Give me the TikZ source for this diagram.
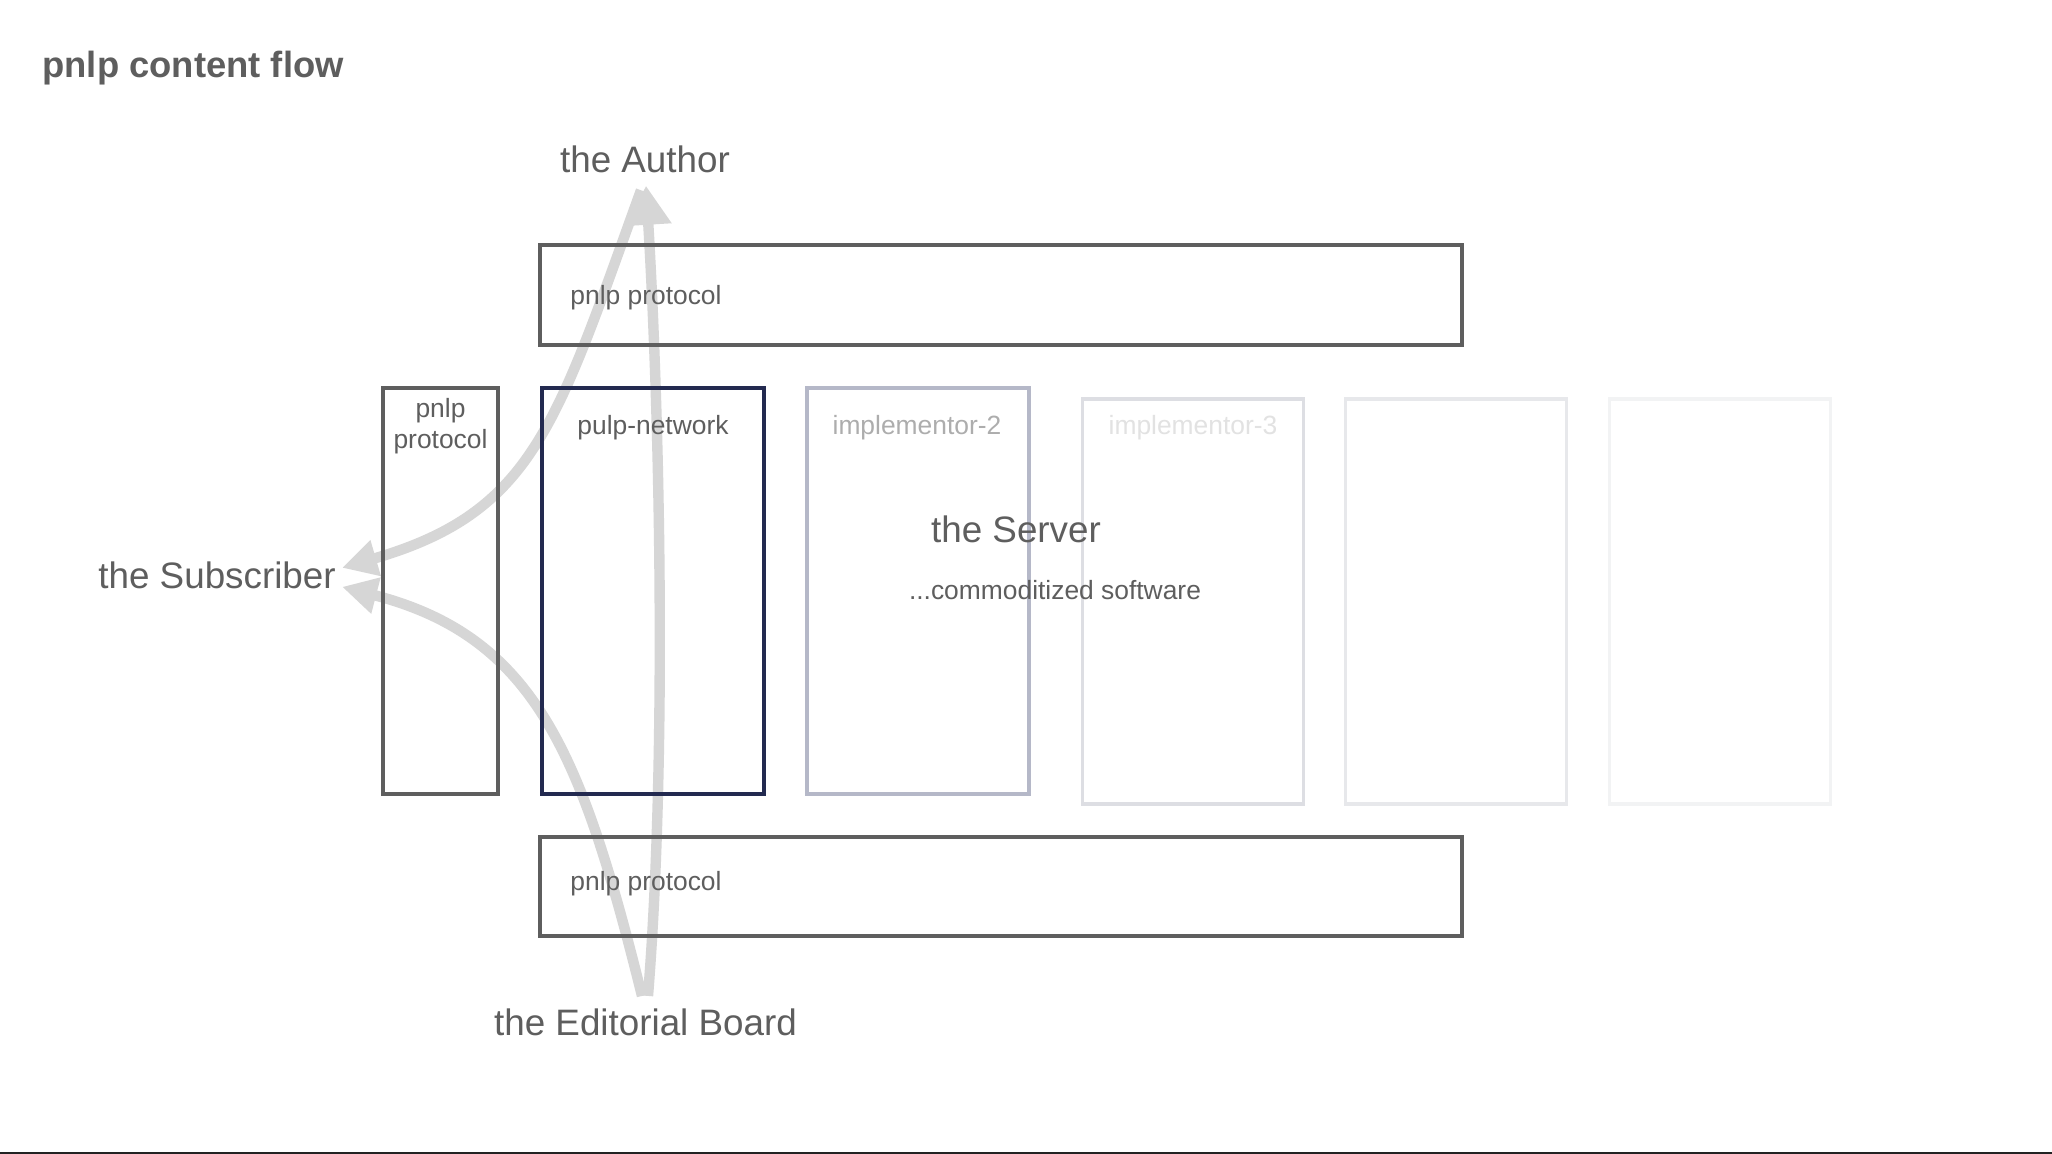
\documentclass[tikz,border=0pt]{standalone}
\usepackage{fontspec}
\setmainfont{Liberation Sans}
\usetikzlibrary{arrows.meta}
\definecolor{ink}{HTML}{5E5E5E}
\definecolor{navy}{HTML}{232A50}
\definecolor{impB}{HTML}{B5B8C8}
\definecolor{impT}{HTML}{ADADAD}
\definecolor{impC}{HTML}{DDDEE3}
\definecolor{impCT}{HTML}{E2E2E2}
\definecolor{impD}{HTML}{E7E8EB}
\definecolor{impE}{HTML}{F2F3F4}
\definecolor{flowc}{HTML}{D6D6D6}
\definecolor{rulec}{HTML}{222222}
\begin{document}
\begin{tikzpicture}[x=0.5pt, y=-0.5pt,
  bigtxt/.style={inner sep=0pt, text=ink, font=\fontsize{18.4}{22}\selectfont},
  smalltxt/.style={inner sep=0pt, text=ink, font=\fontsize{13.2}{15.8}\selectfont},
  titletxt/.style={inner sep=0pt, text=ink, font=\bfseries\fontsize{18.2}{21.8}\selectfont},
  boxframe/.style={draw, line width=1.9pt, inner sep=0pt, fill=none},
  darkbox/.style={boxframe, draw=ink},
  flow/.style={draw=flowc, line width=5.2pt, line cap=butt},
  bigtip/.style={-{Triangle[length=19.5pt, width=22pt]}},
  smalltip/.style={-{Triangle[length=17.5pt, width=17.5pt]}}
]
\fill[white] (0,0) rectangle (2052,1154);
\useasboundingbox (0,0) rectangle (2052,1154);

% title and actors
\node[titletxt, anchor=base west] (title) at (42,78) {pnlp content flow};
\node[bigtxt, anchor=base] (author) at (645,173) {the Author};
\node[bigtxt, anchor=base west] (sub) at (98,589) {the Subscriber};
\node[bigtxt, anchor=base] (eb) at (645.5,1035) {the Editorial Board};

% flows
\draw[flow, bigtip] ([shift={(2.5,-12)}]eb.north) .. controls (667,760) and (660,420) .. ([shift={(1,12)}]author.south);
\draw[flow, smalltip] ([shift={(-4,16.5)}]author.south) .. controls (556,425) and (534,512) .. ([shift={(6,-8)}]sub.east);
\draw[flow, smalltip] ([shift={(-3.5,-12)}]eb.north) .. controls (582,755) and (536,637) .. ([shift={(6,11)}]sub.east);

% boxes
\node[darkbox, minimum width=461pt, minimum height=50pt] (ptop) at (1001,295) {};
\node[darkbox, minimum width=461pt, minimum height=49.5pt] (pbot) at (1001,886.5) {};
\node[darkbox, minimum width=57.5pt, minimum height=203pt] (pnar) at (440.5,591) {};
\node[boxframe, draw=navy, minimum width=111pt, minimum height=203pt] (pulp) at (653,591) {};
\node[boxframe, draw=impB, minimum width=111pt, minimum height=203pt] (imp2) at (918,591) {};
\node[boxframe, draw=impC, minimum width=110.5pt, minimum height=202.5pt] (imp3) at (1193,601.5) {};
\node[boxframe, draw=impD, minimum width=110.5pt, minimum height=202.5pt] (imp4) at (1456,601.5) {};
\node[boxframe, draw=impE, minimum width=110.5pt, minimum height=202.5pt] (imp5) at (1720,601.5) {};

% box labels
\node[smalltxt, anchor=base west] (ptoplab) at (570,305) {pnlp protocol};
\node[smalltxt, anchor=base west] (pbotlab) at (570,890) {pnlp protocol};
\node[smalltxt, anchor=base] (pnarlab1) at (440.5,418) {pnlp};
\node[smalltxt, anchor=base] (pnarlab2) at (440.5,449) {protocol};
\node[smalltxt, anchor=base] (pulplab) at (653,435) {pulp-network};
\node[smalltxt, anchor=base, text=impT] (imp2lab) at (917,435) {implementor-2};
\node[smalltxt, anchor=base, text=impCT] (imp3lab) at (1193,435) {implementor-3};

% server
\node[bigtxt, anchor=base] (server) at (1016,543) {the Server};
\node[smalltxt, anchor=base] (commod) at (1055,600) {...commoditized software};

% bottom rule
\fill[rulec] (0,1152) rectangle (2052,1154);
\end{tikzpicture}
\end{document}
